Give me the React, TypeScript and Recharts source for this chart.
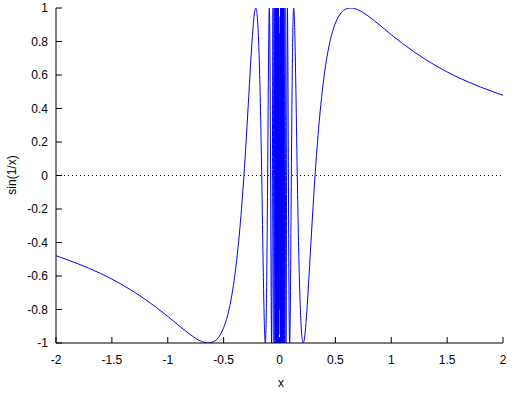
import { LineChart, Line, XAxis, YAxis, ReferenceLine } from 'recharts';

const xLeft = [-2, -1.8, -1.6, -1.4, -1.2, -1, -0.9, -0.8, -0.7, -0.64, -0.6, -0.55, -0.5, -0.45, -0.4, -0.37, -0.35, -0.33, -0.318, -0.3, -0.28, -0.26, -0.245, -0.23, -0.22, -0.212, -0.205, -0.195, -0.185, -0.175, -0.165, -0.159, -0.152, -0.145, -0.138, -0.132, -0.127, -0.122, -0.117, -0.112, -0.106, -0.1, -0.095, -0.091, -0.087, -0.083, -0.0796, -0.075, -0.0707, -0.067, -0.0637, -0.0579, -0.0531, -0.049, -0.0424, -0.0375, -0.0335, -0.0303, -0.0277, -0.0255, -0.0236, -0.022, -0.0205, -0.0193, -0.0182, -0.0172, -0.0163];
const yLeft = [-0.479, -0.528, -0.585, -0.655, -0.74, -0.841, -0.896, -0.949, -0.99, -1, -0.995, -0.97, -0.909, -0.795, -0.598, -0.424, -0.28, -0.111, 0, 0.19, 0.416, 0.648, 0.809, 0.935, 0.986, 1, 0.986, 0.915, 0.771, 0.539, 0.221, 0, -0.293, -0.577, -0.822, -0.962, -1, -0.942, -0.766, -0.473, 0, 0.544, 0.892, 1, 0.879, 0.494, 0, -0.694, -1, -0.705, 0, 1, 0, -1, 1, -1, 1, -1, 1, -1, 1, -1, 1, -1, 1, -1, 1];

// dense core around x = 0
const xMid = [-0.01553, -0.01481, -0.01415, -0.01355, -0.01299, -0.01248, -0.01201, -0.01158, -0.01117, -0.01079, -0.01044, -0.01011, -0.0085, -0.006, -0.003, 0.003, 0.006, 0.0085, 0.01011, 0.01044, 0.01079, 0.01117, 0.01158, 0.01201, 0.01248, 0.01299, 0.01355, 0.01415, 0.01481, 0.01553];
const yMid = [-1, 1, -1, 1, -0.98, 1, -1, 0.97, -1, 1, -0.96, 1, -0.9, 0.95, -0.8, 0.85, -0.95, 0.9, -1, 0.96, -1, 1, -0.97, 1, -1, 0.98, -1, 1, -1, 1];

const xRight = [0.0163, 0.0172, 0.0182, 0.0193, 0.0205, 0.022, 0.0236, 0.0255, 0.0277, 0.0303, 0.0335, 0.0375, 0.0424, 0.049, 0.0531, 0.0579, 0.0637, 0.067, 0.0707, 0.075, 0.0796, 0.083, 0.087, 0.091, 0.095, 0.1, 0.106, 0.112, 0.117, 0.122, 0.127, 0.132, 0.138, 0.145, 0.152, 0.159, 0.165, 0.175, 0.185, 0.195, 0.205, 0.212, 0.22, 0.23, 0.245, 0.26, 0.28, 0.3, 0.318, 0.33, 0.35, 0.37, 0.4, 0.45, 0.5, 0.55, 0.6, 0.64, 0.7, 0.8, 0.9, 1, 1.2, 1.4, 1.6, 1.8, 2];
const yRight = [-1, 1, -1, 1, -1, 1, -1, 1, -1, 1, -1, 1, -1, 1, 0, -1, 0, 0.705, 1, 0.694, 0, -0.494, -0.879, -1, -0.892, -0.544, 0, 0.473, 0.766, 0.942, 1, 0.962, 0.822, 0.577, 0.293, 0, -0.221, -0.539, -0.771, -0.915, -0.986, -1, -0.986, -0.935, -0.809, -0.648, -0.416, -0.19, 0, 0.111, 0.28, 0.424, 0.598, 0.795, 0.909, 0.97, 0.995, 1, 0.99, 0.949, 0.896, 0.841, 0.74, 0.655, 0.585, 0.528, 0.479];

const xTicks = [-2, -1.5, -1, -0.5, 0, 0.5, 1, 1.5, 2];
const yTicks = [-1, -0.8, -0.6, -0.4, -0.2, 0, 0.2, 0.4, 0.6, 0.8, 1];

const data = [
  ...xLeft.map((x, i) => ({ x, y: yLeft[i] })),
  ...xMid.map((x, i) => ({ x, y: yMid[i] })),
  ...xRight.map((x, i) => ({ x, y: yRight[i] })),
];

const font = { fontFamily: '"Liberation Sans", Arial, sans-serif', fontSize: 12, fill: '#000' };
const noLabel = () => <g />;

const App = () => {
  return (
    <div style={{ position: 'absolute', left: 0, top: 0, width: 516, height: 393, background: '#fff' }}>
      <LineChart width={516} height={393} data={data} margin={{ top: 8, right: 13, left: 0, bottom: 0 }}>
        <XAxis dataKey="x" type="number" domain={[-2, 2]} ticks={xTicks} allowDataOverflow
          height={50} tickSize={-6} tickMargin={18} tick={font}
          axisLine={{ stroke: '#000' }} tickLine={{ stroke: '#000' }} />
        <XAxis xAxisId="top" orientation="top" dataKey="x" type="number" domain={[-2, 2]} ticks={xTicks}
          height={0} tickSize={-6} tick={noLabel} axisLine={{ stroke: '#000' }} tickLine={{ stroke: '#000' }} />
        <YAxis type="number" domain={[-1, 1]} ticks={yTicks} allowDataOverflow
          width={56} tickSize={-6} tickMargin={14} tick={font}
          axisLine={{ stroke: '#000' }} tickLine={{ stroke: '#000' }} />
        <YAxis yAxisId="right" orientation="right" type="number" domain={[-1, 1]} ticks={yTicks}
          width={0} tickSize={-6} tick={noLabel} axisLine={{ stroke: '#000' }} tickLine={{ stroke: '#000' }} />
        <ReferenceLine y={0} stroke="#000" strokeDasharray="1 3" />
        <Line dataKey="y" type="monotone" stroke="#0000ff" strokeWidth={1} dot={false} activeDot={false} isAnimationActive={false} />
      </LineChart>
      <div style={{ position: 'absolute', left: 12, top: 175, transform: 'translate(-50%, -50%) rotate(-90deg)', font: '12px "Liberation Sans", Arial, sans-serif', whiteSpace: 'nowrap' }}>
        sin(1/x)
      </div>
      <div style={{ position: 'absolute', left: 281, top: 383, transform: 'translate(-50%, -50%)', font: '12px "Liberation Sans", Arial, sans-serif' }}>
        x
      </div>
    </div>
  );
};

export default App;
